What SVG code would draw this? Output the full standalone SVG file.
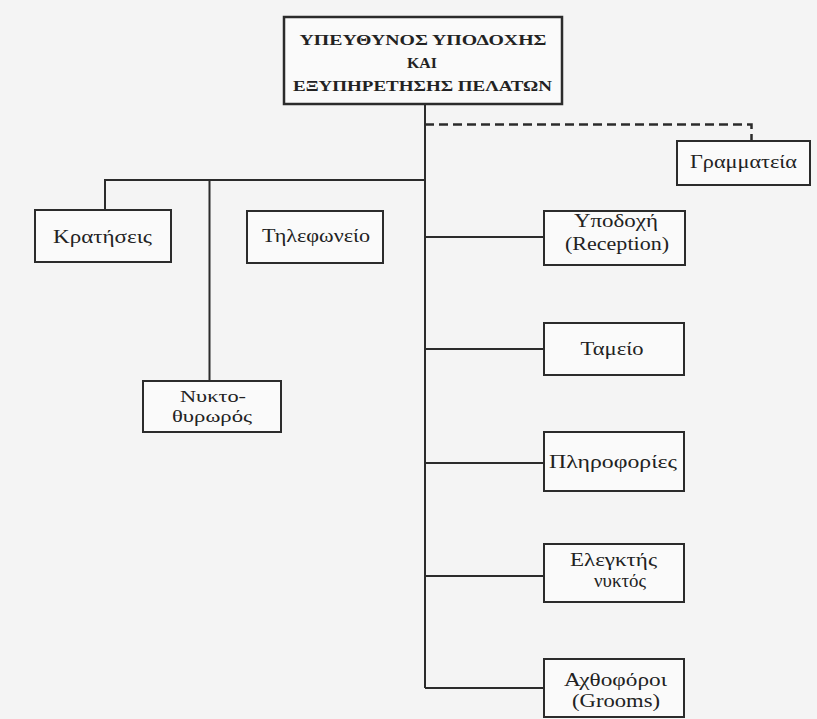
<svg xmlns="http://www.w3.org/2000/svg" width="817" height="719" viewBox="0 0 817 719">
<style>
.box{fill:#fafafa;stroke:#2b2b2b;stroke-width:2}
.t{font-family:"Liberation Serif","DejaVu Serif",serif;font-size:18px;fill:#222;text-anchor:middle}
.s{font-size:17px}
.h{font-family:"Liberation Serif","DejaVu Serif",serif;font-size:15px;font-weight:bold;fill:#222;text-anchor:middle}
.ln{fill:none;stroke:#2b2b2b;stroke-width:2}
.dash{fill:none;stroke:#2b2b2b;stroke-width:2.5;stroke-dasharray:9,5}
</style>
<rect x="0" y="0" width="817" height="719" fill="#f4f4f4"/>
<g id="connectors">
<path class="ln" d="M425,104 V688"/>
<path class="dash" d="M425,124.5 H751.5 V141"/>
<path class="ln" d="M425,180 H105 V210"/>
<path class="ln" d="M209.5,180 V381"/>
<path class="ln" d="M425,237 H544"/>
<path class="ln" d="M425,349 H544"/>
<path class="ln" d="M425,463 H544"/>
<path class="ln" d="M425,576 H544"/>
<path class="ln" d="M425,688 H544"/>
</g>
<g id="head">
<rect class="box" x="284" y="17" width="278" height="87" style="stroke-width:2.5"/>
<text class="h" x="423" y="45" textLength="247" lengthAdjust="spacingAndGlyphs">ΥΠΕΥΘΥΝΟΣ ΥΠΟΔΟΧΗΣ</text>
<text class="h" x="422" y="68" textLength="30" lengthAdjust="spacingAndGlyphs">ΚΑΙ</text>
<text class="h" x="422.5" y="91" textLength="259" lengthAdjust="spacingAndGlyphs">ΕΞΥΠΗΡΕΤΗΣΗΣ ΠΕΛΑΤΩΝ</text>
</g>
<g id="grammateia">
<rect class="box" x="677" y="141" width="133" height="44"/>
<text class="t" x="743.5" y="168" textLength="107" lengthAdjust="spacingAndGlyphs">Γραμματεία</text>
</g>
<g id="kratiseis">
<rect class="box" x="35" y="210" width="136" height="52"/>
<text class="t" x="102.5" y="243" textLength="99" lengthAdjust="spacingAndGlyphs">Κρατήσεις</text>
</g>
<g id="tilefoneio">
<rect class="box" x="247" y="211" width="136" height="52"/>
<text class="t" x="316" y="242" textLength="108" lengthAdjust="spacingAndGlyphs">Τηλεφωνείο</text>
</g>
<g id="nyktothyroros">
<rect class="box" x="143" y="381" width="138" height="51"/>
<text class="t s" x="213" y="402" textLength="66" lengthAdjust="spacingAndGlyphs">Νυκτο-</text>
<text class="t s" x="212" y="422" textLength="80" lengthAdjust="spacingAndGlyphs">θυρωρός</text>
</g>
<g id="ypodochi">
<rect class="box" x="544" y="211" width="141" height="54"/>
<text class="t" x="616" y="227" textLength="84" lengthAdjust="spacingAndGlyphs">Υποδοχή</text>
<text class="t" x="617" y="250" textLength="104" lengthAdjust="spacingAndGlyphs">(Reception)</text>
</g>
<g id="tameio">
<rect class="box" x="544" y="323" width="140" height="52"/>
<text class="t" x="612" y="355" textLength="63" lengthAdjust="spacingAndGlyphs">Ταμείο</text>
</g>
<g id="pliroforíes">
<rect class="box" x="544" y="432" width="140" height="59"/>
<text class="t" x="613" y="468" textLength="128" lengthAdjust="spacingAndGlyphs">Πληροφορίες</text>
</g>
<g id="elegktis">
<rect class="box" x="544" y="544" width="140" height="58"/>
<text class="t" x="613.5" y="566" textLength="87" lengthAdjust="spacingAndGlyphs">Ελεγκτής</text>
<text class="t" x="620" y="587" textLength="52" lengthAdjust="spacingAndGlyphs">νυκτός</text>
</g>
<g id="achthoforoi">
<rect class="box" x="544" y="659" width="140" height="58"/>
<text class="t" x="615.5" y="686" textLength="103" lengthAdjust="spacingAndGlyphs">Αχθοφόροι</text>
<text class="t" x="616" y="707" textLength="88" lengthAdjust="spacingAndGlyphs">(Grooms)</text>
</g>
</svg>
